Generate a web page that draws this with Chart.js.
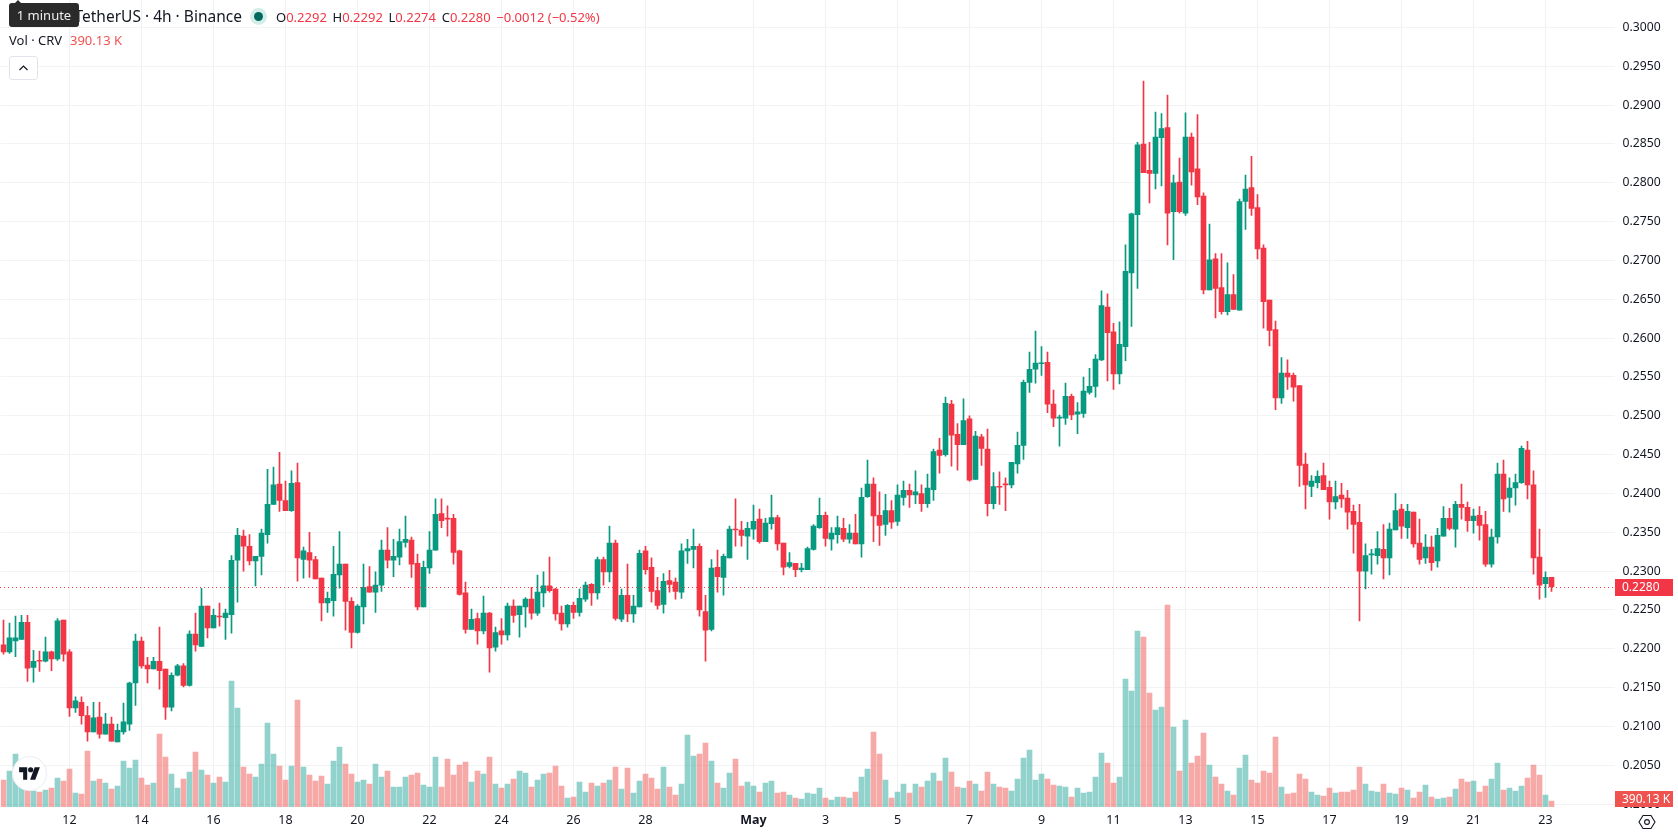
<!DOCTYPE html>
<html>
<head>
<meta charset="utf-8">
<title>CRV / TetherUS 4h</title>
<script src="https://cdn.jsdelivr.net/npm/chart.js@4/dist/chart.umd.min.js"></script>
<style>
  html, body { margin: 0; padding: 0; background: #fff; overflow: hidden; }
  body { font-family: "Noto Sans", sans-serif; color: #131722; }
  #wrap { position: relative; width: 1678px; height: 835px; }
  .txt { position: absolute; white-space: nowrap; line-height: 18px; }
  .red { color: #f23645; }
  .rot { color: #ef5350; }
  .gap { margin-left: 5.7px; }
  #dica { position: absolute; left: 9px; top: 3px; width: 70px; height: 24px; background: #2a2a2a; border-radius: 3px;
          color: #eee; font-size: 13px; line-height: 24px; text-align: center; }
  #dica:before { content: ""; position: absolute; left: 5px; top: -3px; border: 4px solid transparent; border-top: 0; border-bottom: 4px solid #2a2a2a; }
  #ponto { position: absolute; left: 250px; top: 8px; width: 17px; height: 17px; border-radius: 50%; background: #d5ede9; }
  #ponto i { position: absolute; left: 4px; top: 4px; width: 9px; height: 9px; border-radius: 50%; background: #00695c; }
  #botao { position: absolute; left: 9px; top: 56px; width: 27px; height: 22px; border: 1px solid #e0e3eb; border-radius: 3px; background: #fff; }
  #logo { position: absolute; left: 13px; top: 757px; width: 33px; height: 33px; border-radius: 50%; background: #fff; box-shadow: 0 0 0 1px #eceef2; }
</style>
</head>
<body>
<div id="wrap">
  <canvas id="grafico" width="1678" height="835"></canvas>
  <div class="txt" style="left:74.5px;top:7px;font-size:15.5px">TetherUS · 4h · Binance</div>
  <div id="dica">1 minute</div>
  <div id="ponto"><i></i></div>
  <div class="txt" style="left:276px;top:8px;font-size:13px" id="ohlc"></div>
  <div class="txt" style="left:9px;top:31px;font-size:13px">Vol · CRV</div>
  <div class="txt rot" style="left:70px;top:31px;font-size:13px" id="volTexto"></div>
  <div id="botao"><svg width="27" height="22" viewBox="0 0 27 22"><path d="M9.5 13l4-4 4 4" fill="none" stroke="#131722" stroke-width="1.2"/></svg></div>
  <div id="logo"><svg style="position:absolute;left:6px;top:9px" width="21" height="15" viewBox="0 0 36 26"><path d="M14 24H7V11H0V2h14v22zM28 24h-9l8-22h9l-8 22z" fill="#131722"/><circle cx="20" cy="6.5" r="4.5" fill="#131722"/></svg></div>
  <svg style="position:absolute;left:1638px;top:813px" width="18" height="18" viewBox="0 0 18 18"><path d="M5 2.5h8l4 6.5-4 6.5H5L1 9z" fill="none" stroke="#131722" stroke-width="1.1"/><circle cx="9" cy="9" r="2.4" fill="none" stroke="#131722" stroke-width="1.1"/></svg>
</div>

<script>
// CRV/USDT 4h candles, 10 Apr to 23 May, ten per row
const abertura = [
  .2205,.2196,.2210,.2212,.2234,.2176,.2185,.2184,.2196,.2187,
  .2237,.2196,.2124,.2131,.2114,.2093,.2112,.2090,.2103,.2080,
  .2093,.2103,.2156,.2210,.2179,.2174,.2184,.2174,.2125,.2166,
  .2178,.2153,.2219,.2203,.2255,.2227,.2242,.2240,.2244,.2314,
  .2345,.2332,.2313,.2319,.2347,.2386,.2412,.2391,.2378,.2414,
  .2315,.2324,.2315,.2291,.2259,.2262,.2295,.2309,.2261,.2221,
  .2254,.2280,.2273,.2282,.2327,.2314,.2318,.2337,.2340,.2310,
  .2254,.2304,.2327,.2374,.2368,.2368,.2326,.2272,.2225,.2239,
  .2223,.2246,.2202,.2223,.2218,.2255,.2244,.2254,.2264,.2246,
  .2272,.2281,.2277,.2246,.2232,.2256,.2247,.2264,.2283,.2272,
  .2315,.2299,.2336,.2238,.2269,.2245,.2254,.2326,.2305,.2275,
  .2257,.2288,.2286,.2273,.2326,.2328,.2332,.2248,.2225,.2305,
  .2292,.2317,.2354,.2353,.2345,.2354,.2367,.2338,.2361,.2369,
  .2336,.2306,.2310,.2302,.2302,.2328,.2356,.2372,.2341,.2347,
  .2355,.2341,.2349,.2335,.2396,.2412,.2372,.2360,.2378,.2364,
  .2395,.2404,.2398,.2400,.2387,.2405,.2456,.2450,.2515,.2476,
  .2463,.2496,.2418,.2473,.2457,.2387,.2409,.2412,.2411,.2438,
  .2462,.2543,.2560,.2567,.2569,.2515,.2497,.2497,.2525,.2502,
  .2503,.2530,.2538,.2572,.2640,.2608,.2554,.2589,.2684,.2759,
  .2850,.2816,.2812,.2858,.2871,.2763,.2801,.2761,.2859,.2818,
  .2783,.2662,.2702,.2665,.2634,.2656,.2636,.2776,.2794,.2768,
  .2716,.2649,.2611,.2523,.2555,.2552,.2539,.2438,.2409,.2414,
  .2423,.2408,.2389,.2398,.2394,.2377,.2363,.2300,.2321,.2320,
  .2328,.2317,.2353,.2380,.2356,.2376,.2336,.2317,.2331,.2313,
  .2345,.2368,.2354,.2386,.2382,.2365,.2372,.2360,.2309,.2344,
  .2425,.2395,.2407,.2414,.2456,.2411,.2318,.2284,.2292
];
const maxima = [
  .2237,.2233,.2242,.2243,.2243,.2198,.2197,.2215,.2197,.2239,
  .2237,.2199,.2138,.2138,.2126,.2131,.2131,.2117,.2112,.2103,
  .2130,.2157,.2219,.2215,.2189,.2189,.2228,.2174,.2169,.2180,
  .2181,.2223,.2246,.2278,.2255,.2251,.2259,.2251,.2320,.2355,
  .2353,.2347,.2319,.2354,.2431,.2434,.2453,.2416,.2429,.2439,
  .2331,.2350,.2319,.2291,.2273,.2332,.2351,.2309,.2266,.2257,
  .2309,.2306,.2299,.2340,.2356,.2341,.2354,.2371,.2344,.2322,
  .2313,.2351,.2393,.2393,.2384,.2373,.2327,.2286,.2251,.2246,
  .2268,.2247,.2228,.2239,.2259,.2263,.2255,.2266,.2279,.2295,
  .2299,.2318,.2278,.2255,.2257,.2260,.2277,.2286,.2284,.2318,
  .2318,.2358,.2340,.2277,.2309,.2269,.2327,.2332,.2317,.2292,
  .2297,.2301,.2291,.2335,.2341,.2354,.2335,.2269,.2315,.2327,
  .2322,.2358,.2393,.2364,.2363,.2385,.2380,.2368,.2398,.2372,
  .2336,.2324,.2310,.2310,.2331,.2360,.2394,.2376,.2356,.2371,
  .2368,.2360,.2373,.2407,.2443,.2420,.2402,.2399,.2391,.2411,
  .2416,.2412,.2429,.2411,.2425,.2457,.2471,.2524,.2520,.2490,
  .2522,.2500,.2480,.2476,.2483,.2427,.2428,.2420,.2440,.2479,
  .2546,.2582,.2609,.2589,.2582,.2533,.2501,.2542,.2528,.2517,
  .2550,.2561,.2579,.2661,.2657,.2619,.2621,.2720,.2761,.2852,
  .2931,.2852,.2891,.2889,.2913,.2810,.2832,.2890,.2864,.2888,
  .2787,.2747,.2709,.2709,.2697,.2682,.2779,.2810,.2834,.2785,
  .2720,.2649,.2622,.2575,.2572,.2555,.2539,.2452,.2423,.2429,
  .2439,.2416,.2416,.2413,.2404,.2385,.2386,.2335,.2328,.2351,
  .2360,.2362,.2400,.2386,.2386,.2376,.2367,.2347,.2345,.2355,
  .2383,.2381,.2390,.2412,.2389,.2380,.2383,.2377,.2354,.2439,
  .2443,.2420,.2425,.2461,.2467,.2429,.2354,.2299,.2292
];
const minimas = [
  .2193,.2194,.2190,.2212,.2158,.2157,.2171,.2183,.2172,.2185,
  .2184,.2113,.2118,.2103,.2081,.2093,.2085,.2090,.2081,.2080,
  .2090,.2095,.2127,.2175,.2156,.2174,.2148,.2109,.2120,.2165,
  .2151,.2152,.2197,.2203,.2214,.2227,.2229,.2212,.2220,.2260,
  .2300,.2308,.2281,.2295,.2336,.2386,.2377,.2378,.2377,.2287,
  .2291,.2292,.2290,.2236,.2247,.2242,.2278,.2224,.2201,.2220,
  .2232,.2273,.2247,.2274,.2304,.2293,.2308,.2331,.2292,.2250,
  .2254,.2297,.2327,.2356,.2345,.2309,.2269,.2220,.2225,.2206,
  .2219,.2170,.2197,.2206,.2211,.2234,.2215,.2228,.2238,.2243,
  .2254,.2273,.2237,.2224,.2228,.2239,.2242,.2261,.2256,.2264,
  .2282,.2286,.2237,.2235,.2235,.2234,.2254,.2296,.2260,.2251,
  .2246,.2273,.2264,.2265,.2310,.2304,.2242,.2184,.2223,.2273,
  .2269,.2317,.2332,.2332,.2315,.2341,.2336,.2338,.2354,.2327,
  .2295,.2304,.2293,.2299,.2302,.2327,.2355,.2332,.2327,.2336,
  .2338,.2336,.2335,.2318,.2395,.2338,.2333,.2346,.2355,.2359,
  .2385,.2382,.2387,.2377,.2382,.2391,.2426,.2448,.2435,.2430,
  .2463,.2416,.2418,.2436,.2371,.2380,.2386,.2378,.2407,.2426,
  .2444,.2530,.2542,.2552,.2504,.2486,.2461,.2489,.2495,.2477,
  .2498,.2528,.2524,.2571,.2545,.2534,.2541,.2571,.2615,.2664,
  .2813,.2774,.2792,.2796,.2720,.2701,.2761,.2758,.2797,.2772,
  .2657,.2662,.2626,.2631,.2630,.2637,.2636,.2740,.2758,.2702,
  .2613,.2590,.2508,.2516,.2534,.2519,.2409,.2380,.2396,.2407,
  .2405,.2367,.2380,.2382,.2354,.2323,.2236,.2277,.2296,.2309,
  .2290,.2295,.2353,.2342,.2342,.2331,.2309,.2310,.2301,.2305,
  .2345,.2353,.2331,.2367,.2351,.2349,.2340,.2306,.2305,.2336,
  .2377,.2376,.2385,.2413,.2393,.2296,.2264,.2266,.2274
];
const fechamento = [
  .2196,.2214,.2214,.2234,.2175,.2184,.2184,.2196,.2187,.2236,
  .2193,.2124,.2133,.2114,.2093,.2111,.2090,.2103,.2081,.2095,
  .2106,.2156,.2210,.2178,.2174,.2184,.2172,.2125,.2166,.2178,
  .2153,.2219,.2205,.2255,.2227,.2243,.2241,.2246,.2314,.2346,
  .2332,.2313,.2319,.2349,.2386,.2411,.2391,.2378,.2413,.2317,
  .2326,.2314,.2290,.2259,.2265,.2296,.2309,.2261,.2221,.2255,
  .2279,.2273,.2282,.2327,.2314,.2319,.2338,.2341,.2309,.2254,
  .2305,.2327,.2373,.2365,.2367,.2324,.2270,.2225,.2238,.2223,
  .2246,.2201,.2221,.2218,.2255,.2243,.2255,.2264,.2246,.2273,
  .2281,.2275,.2245,.2232,.2256,.2247,.2265,.2282,.2272,.2315,
  .2299,.2336,.2239,.2269,.2245,.2255,.2323,.2302,.2274,.2256,
  .2287,.2283,.2274,.2326,.2329,.2332,.2250,.2224,.2304,.2293,
  .2319,.2354,.2353,.2346,.2355,.2364,.2338,.2362,.2369,.2335,
  .2305,.2311,.2302,.2304,.2329,.2358,.2372,.2342,.2349,.2356,
  .2341,.2349,.2335,.2395,.2412,.2371,.2359,.2378,.2363,.2398,
  .2404,.2398,.2402,.2387,.2407,.2454,.2449,.2516,.2475,.2463,
  .2494,.2417,.2474,.2458,.2387,.2409,.2408,.2411,.2440,.2462,
  .2543,.2560,.2568,.2568,.2515,.2497,.2498,.2525,.2501,.2505,
  .2532,.2538,.2573,.2642,.2607,.2554,.2592,.2686,.2760,.2849,
  .2813,.2812,.2859,.2870,.2761,.2800,.2763,.2859,.2814,.2782,
  .2662,.2701,.2664,.2634,.2656,.2637,.2776,.2792,.2767,.2715,
  .2647,.2610,.2523,.2555,.2550,.2537,.2436,.2411,.2416,.2422,
  .2405,.2389,.2396,.2393,.2376,.2360,.2300,.2320,.2322,.2329,
  .2317,.2354,.2378,.2358,.2377,.2335,.2315,.2331,.2311,.2346,
  .2368,.2355,.2386,.2382,.2365,.2371,.2359,.2309,.2344,.2425,
  .2393,.2407,.2414,.2458,.2411,.2317,.2282,.2292,.2280
];
// volume em milhares de CRV
const volume = [
  1755,2340,3445,1755,1300,1040,975,1105,1235,1885,
  1690,2470,910,845,3640,1690,1820,1560,1170,1365,
  2990,2535,3055,1885,1430,1560,4745,3250,2145,1235,
  1820,2275,3575,2405,2080,1560,1950,1625,8190,6435,
  2600,2145,1950,2795,5460,3445,2665,1755,2665,6955,
  2600,2080,1690,2015,1495,2990,3900,2795,2145,1625,
  1755,1495,2795,1950,2340,1300,1300,1950,2080,2210,
  1430,1300,3250,1300,3120,2080,2730,2925,1625,2340,
  2145,3250,1495,1235,1495,1820,2340,2210,1300,1755,
  2145,2210,2665,1365,585,650,1625,975,1560,1365,
  1560,1755,2600,1170,2535,910,1690,2145,1885,1170,
  2600,1300,780,1495,4680,3315,3445,4160,2990,1560,
  1235,2210,3120,1365,1625,1365,975,1560,1690,910,
  975,780,585,520,910,845,1235,585,455,650,
  650,585,975,1950,2470,4875,3445,1755,585,975,
  1495,910,1495,1300,1690,2210,1690,3185,2275,1300,
  1235,1690,1495,1040,2275,1495,1300,1235,1040,1820,
  3185,3705,1755,2145,1820,1430,1365,1300,650,1235,
  910,975,1950,3510,2860,1560,1950,8320,7540,11440,
  11050,7410,6305,6500,13130,5200,2340,5655,2860,3315,
  4810,2730,1950,1495,1040,780,2535,3380,1755,1560,
  2340,2210,4550,1300,845,910,2145,1820,975,780,
  715,1235,910,975,975,1105,2600,1495,1040,975,
  1495,910,845,1235,1105,585,975,1430,650,520,
  585,650,1170,1820,1625,1690,975,1365,1820,2860,
  1105,1235,1040,1365,1885,2730,2080,780,390.13
];

const tickIndice = [11,23,35,47,59,71,83,95,107,125,137,149,161,173,185,197,209,221,233,245,257];
const tickRotulos = ['12','14','16','18','20','22','24','26','28','May','3','5','7','9','11','13','15','17','19','21','23'];

const VERDE = '#089981';
const VERMELHO = '#f23645';
const VOL_VERDE = 'rgba(38, 166, 154, 0.5)';
const VOL_VERMELHO = 'rgba(239, 83, 80, 0.5)';
const FONTE = '"Noto Sans", sans-serif';

// horários das velas, mais um espaço vazio à direita da última
const inicio = Date.UTC(2024, 3, 10, 4);
const categorias = Array.from({ length: 269 }, (_, i) => new Date(inicio + i * 4 * 3600000).toISOString());

const sobe = fechamento.map((c, i) => c >= abertura[i]);
const corVela = sobe.map(s => s ? VERDE : VERMELHO);
const ultimoFech = fechamento[fechamento.length - 1];
const ultimoVol = volume[volume.length - 1];

document.getElementById('ohlc').innerHTML =
  'O<span class="red">0.2292</span><span class="gap">H</span><span class="red">0.2292</span><span class="gap">L</span><span class="red">0.2274</span><span class="gap">C</span><span class="red">' +
  ultimoFech.toFixed(4) + '</span><span class="red gap">−0.0012 (−0.52%)</span>';
document.getElementById('volTexto').innerText = ultimoVol.toFixed(2) + ' K';

// linha pontilhada do último preço e as etiquetas do eixo
const etiquetas = {
  id: 'etiquetas',
  afterDraw(chart) {
    const c = chart.ctx, a = chart.chartArea;
    const y = Math.round(chart.scales.y.getPixelForValue(ultimoFech));
    c.save();
    c.strokeStyle = VERMELHO;
    c.lineWidth = 1;
    c.setLineDash([1, 3]);
    c.beginPath();
    c.moveTo(0, y + .5);
    c.lineTo(a.right, y + .5);
    c.stroke();
    c.setLineDash([]);
    c.font = '12px ' + FONTE;
    c.textBaseline = 'middle';
    c.fillStyle = VERMELHO;
    c.fillRect(1615, y - 8, 58, 17);
    c.fillStyle = '#fff';
    c.fillText(ultimoFech.toFixed(4), 1622, y + 1);
    c.fillStyle = '#ef5350';
    c.fillRect(1615, 791, 58, 16);
    c.fillStyle = '#fff';
    c.fillText(ultimoVol.toFixed(2) + ' K', 1622, 799.5);
    c.restore();
  }
};

const ctx = document.getElementById('grafico').getContext('2d');
const grafico = new Chart(ctx, {
  type: 'bar',
  data: {
    labels: categorias,
    datasets: [
      {
        label: 'Corpo',
        data: abertura.map((o, i) => [o, fechamento[i]]),
        backgroundColor: corVela,
        barThickness: 5,
        minBarLength: 1,
        grouped: false,
        order: 1
      },
      {
        label: 'Pavio',
        data: minimas.map((l, i) => [l, maxima[i]]),
        backgroundColor: corVela,
        barThickness: 1,
        grouped: false,
        order: 2
      },
      {
        label: 'Vol',
        data: volume,
        yAxisID: 'yVol',
        backgroundColor: sobe.map(s => s ? VOL_VERDE : VOL_VERMELHO),
        barThickness: 5,
        grouped: false,
        order: 3
      }
    ]
  },
  options: {
    responsive: false,
    animation: false,
    events: [],
    layout: { padding: { left: 0.5 } },
    plugins: { legend: { display: false }, tooltip: { enabled: false } },
    scales: {
      x: {
        offset: true,
        border: { display: false },
        grid: { color: '#f0f1f4', offset: false, drawTicks: false },
        afterBuildTicks: axis => { axis.ticks = tickIndice.map(v => ({ value: v })); },
        afterFit: axis => { axis.height = 28; },
        ticks: {
          autoSkip: false,
          maxRotation: 0,
          padding: 6,
          color: '#131722',
          font: c => ({ family: FONTE, size: 12.5, weight: tickRotulos[c.index] === 'May' ? 'bold' : 'normal' }),
          callback: (v, i) => tickRotulos[i]
        }
      },
      y: {
        position: 'right',
        min: 0.19963,
        max: 0.30354,
        border: { display: false },
        grid: { color: '#f2f3f5', drawTicks: false },
        // o rótulo do topo não deve empurrar a área do gráfico
        afterFit: axis => { axis.width = 63.5; axis.paddingTop = 0; axis.paddingBottom = 0; },
        ticks: {
          stepSize: 0.005,
          includeBounds: false,
          padding: 8,
          color: '#131722',
          font: { family: FONTE, size: 12.2 },
          callback: v => v.toFixed(4)
        }
      },
      yVol: {
        display: false,
        min: 0,
        max: 52455
      }
    }
  },
  plugins: [etiquetas]
});
</script>
</body>
</html>
